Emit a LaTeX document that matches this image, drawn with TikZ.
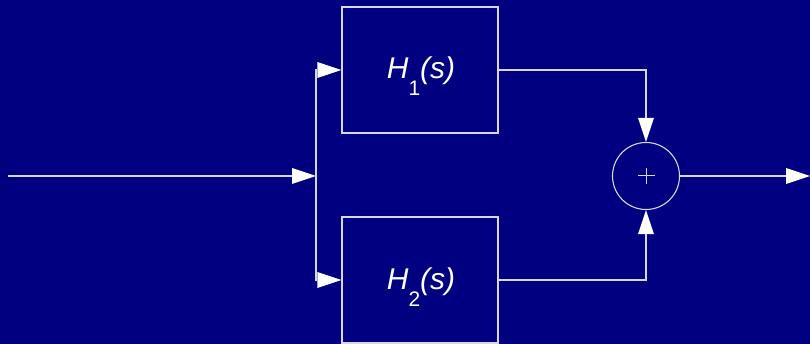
\documentclass[tikz,border=0pt]{standalone}
\usepackage{fontspec}
\setmainfont{Liberation Sans}
\usetikzlibrary{arrows.meta}
\definecolor{bgnavy}{RGB}{0,0,128}
\definecolor{linegray}{RGB}{215,215,228}
\tikzset{
  wire/.style={draw=linegray, line width=1.1pt},
  arr/.style={wire, -{Triangle[length=24pt,width=16pt,fill=white,line width=0pt]}},
  block/.style={draw=linegray, line width=1.1pt, minimum width=156pt, minimum height=126pt, inner sep=0pt},
  summer/.style={draw=linegray, line width=1.1pt, circle, minimum size=67pt, inner sep=0pt},
  lbl/.style={text=white, anchor=base, inner sep=0pt, font=\fontsize{30}{30}\selectfont\itshape}
}
\newcommand{\tfsub}[1]{\raisebox{-17pt}{\fontsize{21}{21}\selectfont\upshape #1}}
\begin{document}
\begin{tikzpicture}[x=1pt,y=-1pt]
\fill[bgnavy] (0,0) rectangle (810,344);
\useasboundingbox (0,0) rectangle (810,344);
\node[block] (h1) at (420,70) {};
\node[block] (h2) at (420,280) {};
\node[lbl] (t1) at (421,79) {H\tfsub{1}(s)};
\node[lbl] (t2) at (421,290) {H\tfsub{2}(s)};
\node[summer] (sum) at (646,176) {};
\draw[linegray, line width=1pt] ([xshift=-8.5pt]sum.center) -- ([xshift=8.5pt]sum.center)
  ([yshift=-8pt]sum.center) -- ([yshift=8pt]sum.center);
\coordinate (in) at (8,176);
\coordinate (br) at (316,176);
\coordinate (out) at (810,176);
\draw[arr] (in) -- (br);
\draw[arr] (br) |- (h1.west);
\draw[arr] (br) |- (h2.west);
\draw[arr] (h1.east) -| (sum.north);
\draw[arr] (h2.east) -| (sum.south);
\draw[arr] (sum.east) -- (out);
\end{tikzpicture}
\end{document}
